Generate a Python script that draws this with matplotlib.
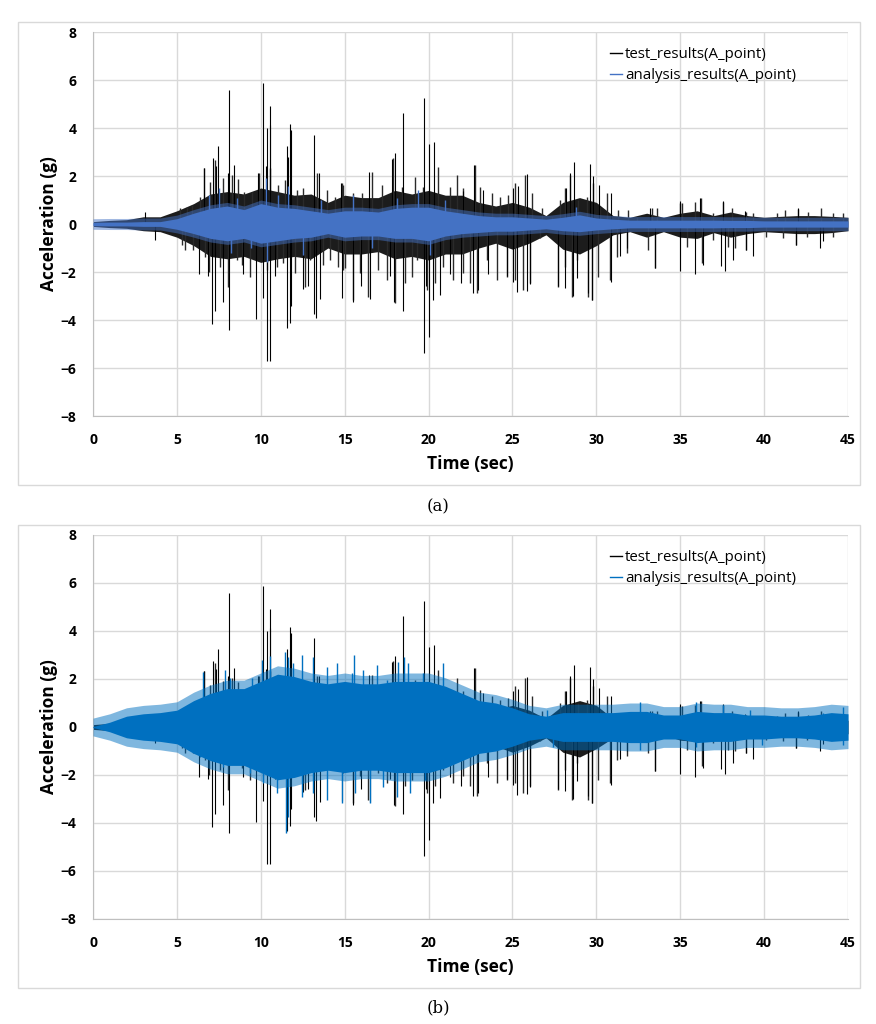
import numpy as np
import matplotlib.pyplot as plt
from matplotlib.patches import Rectangle

# envelope sample times (s)
env_t = np.arange(0, 46)

# test_results dense core (g)
test_hi = [0.1, 0.15, 0.18, 0.3, 0.3, 0.55, 0.85, 1.25, 1.35, 1.25, 1.5, 1.35, 1.2, 1.25, 0.9, 1.2,
           1.1, 1.1, 1.4, 1.25, 1.4, 1.2, 1.2, 0.9, 0.75, 0.9, 0.7, 0.35, 0.9, 1.1, 0.9, 0.35,
           0.28, 0.45, 0.28, 0.45, 0.55, 0.35, 0.5, 0.35, 0.28, 0.32, 0.35, 0.35, 0.32, 0.28]
test_lo = [-0.1, -0.15, -0.18, -0.28, -0.32, -0.55, -0.9, -1.35, -1.45, -1.35, -1.6, -1.45, -1.35,
           -1.45, -1.0, -1.25, -1.25, -1.15, -1.45, -1.35, -1.5, -1.25, -1.25, -1.0, -0.8, -1.05,
           -0.8, -0.45, -1.05, -1.25, -0.9, -0.45, -0.32, -0.55, -0.32, -0.55, -0.6, -0.36,
           -0.55, -0.4, -0.32, -0.36, -0.4, -0.4, -0.36, -0.28]

# test_results large spikes
spike_up_t = [3.1, 6.6, 7.16, 7.34, 7.46, 8.06, 8.13, 8.43, 9.82, 10.12, 10.32, 10.4, 10.54,
              10.56, 11.55, 11.6, 11.75, 11.8, 13.15, 13.49, 14.78, 16.47, 17.8, 18.0, 18.47,
              19.7, 20.04, 20.3, 22.07, 22.73, 23.26, 25.05, 25.35, 25.84, 28.18, 28.42,
              28.66, 29.65, 29.81, 30.13, 30.9, 33.2, 34.98, 36.17, 37.56, 38.85, 42.03]
spike_up_v = [0.5, 2.33, 2.73, 2.4, 3.26, 2.12, 5.59, 2.44, 2.12, 5.89, 2.4, 4.0, 4.13,
              4.92, 3.23, 2.8, 4.17, 3.9, 3.72, 2.12, 1.7, 2.16, 2.7, 2.95, 4.62,
              5.27, 3.34, 3.4, 1.36, 2.47, 1.43, 1.5, 1.57, 2.1, 1.5, 2.12,
              2.6, 2.5, 1.98, 1.64, 1.29, 0.67, 0.94, 1.08, 0.94, 0.53, 0.67]
spike_dn_t = [3.7, 6.31, 6.83, 7.08, 7.3, 7.74, 8.13, 8.93, 9.72, 10.12, 10.4, 10.52, 10.87,
              11.55, 11.73, 11.8, 12.54, 12.8, 13.15, 13.27, 13.53, 14.82, 15.48, 15.97,
              16.53, 17.72, 17.96, 18.45, 19.7, 19.84, 20.04, 20.24, 20.67, 21.27, 21.96,
              22.66, 22.96, 23.56, 24.66, 25.05, 25.25, 25.84, 26.04, 27.69, 28.13, 28.58,
              28.82, 29.5, 29.76, 30.89, 31.4, 31.8, 33.49, 34.98, 35.91, 36.33, 37.46,
              37.64, 38.16, 38.95, 39.35, 41.93, 43.36, 43.52]
spike_dn_v = [-0.65, -2.1, -2.18, -4.16, -3.63, -3.25, -4.4, -2.1, -3.95, -3.08, -5.69, -5.69,
              -2.18, -4.33, -4.12, -3.43, -2.7, -2.6, -3.74, -3.91, -3.12, -3.08, -3.25, -2.6,
              -3.12, -2.18, -3.26, -3.63, -5.37, -2.6, -4.7, -3.18, -2.94, -2.1, -2.45,
              -2.87, -2.73, -2.1, -2.18, -2.4, -2.84, -2.8, -2.52, -2.6, -2.66, -3.0,
              -2.25, -2.87, -3.15, -2.4, -1.35, -1.0, -1.83, -1.97, -2.1, -1.69, -1.76,
              -1.97, -1.49, -1.07, -1.35, -0.86, -1.0, -0.72]

# test_results medium spikes (texture of the band)
mid_up_t = [5.18, 5.58, 5.88, 6.38, 6.64, 6.97, 7.27, 7.77, 8.26, 8.66, 9.0, 9.45, 9.91, 10.55,
            11.04, 11.44, 12.14, 12.53, 13.33, 13.92, 14.42, 14.82, 14.92, 15.51, 16.01, 16.61,
            17.2, 17.86, 18.39, 19.19, 19.69, 20.58, 21.28, 21.67, 22.07, 22.77, 23.06, 23.76,
            24.26, 24.75, 25.15, 25.75, 26.14, 26.74, 27.34, 27.84, 28.13, 28.43, 28.92, 29.42,
            29.82, 30.22, 30.61, 31.31, 31.91, 32.4, 33.3, 33.59, 35.0, 35.08, 35.88, 36.21,
            36.97, 37.56, 38.06, 38.95, 39.35, 40.74, 41.24, 42.03, 42.63, 43.42, 44.12, 44.72]
mid_up_v = [0.65, 0.7, 0.79, 1.14, 2.32, 1.76, 2.67, 1.9, 2.04, 1.86, 1.35, 1.35, 2.11, 2.32,
            1.63, 1.83, 1.42, 1.49, 2.11, 1.42, 1.14, 1.69, 1.63, 1.28, 1.28, 2.18,
            1.63, 2.74, 1.56, 1.97, 1.56, 2.39, 1.56, 2.04, 1.49, 2.46, 1.56, 1.28,
            1.14, 1.21, 1.69, 2.04, 1.28, 0.65, 0.31, 1.0, 1.49, 2.04, 1.0, 1.14,
            1.69, 0.72, 1.28, 0.58, 0.58, 0.31, 0.65, 0.65, 0.86, 0.86, 0.93, 1.07,
            0.44, 0.93, 0.65, 0.51, 0.44, 0.44, 0.58, 0.61, 0.51, 0.65, 0.44, 0.44]
mid_dn_t = [5.28, 5.48, 5.98, 6.68, 6.93, 7.57, 8.07, 8.56, 8.86, 9.36, 10.15, 10.35, 10.95,
            11.34, 12.04, 12.64, 12.93, 13.73, 14.13, 14.62, 14.92, 15.02, 15.51, 15.91, 16.41,
            17.0, 17.5, 18.0, 18.6, 19.0, 19.29, 19.89, 20.39, 20.88, 21.48, 22.07, 22.47,
            22.87, 23.46, 24.06, 24.66, 25.15, 25.65, 26.04, 26.64, 27.73, 28.13, 28.52,
            28.82, 29.52, 29.72, 30.12, 30.81, 31.21, 31.8, 33.1, 33.49, 35.38, 36.27,
            36.97, 37.86, 38.26, 38.95, 40.14, 41.14, 41.93, 42.53, 44.12]
mid_dn_v = [-0.88, -1.08, -1.08, -1.36, -1.99, -1.78, -2.61, -1.5, -1.71, -2.19, -1.5, -1.92,
            -1.78, -1.64, -2.06, -2.61, -1.5, -1.71, -1.5, -1.78, -1.92, -1.85, -3.17, -2.06,
            -3.03, -1.92, -2.33, -3.31, -2.47, -2.19, -1.5, -2.75, -2.47, -1.78, -2.33, -2.06,
            -2.47, -2.89, -1.5, -2.33, -2.19, -2.33, -2.75, -2.47, -0.6, -2.61, -1.78, -3.03,
            -1.5, -3.03, -3.17, -2.19, -2.33, -1.36, -1.22, -1.08, -1.85, -0.94, -1.64,
            -0.67, -0.94, -1.01, -1.08, -0.53, -0.6, -0.88, -0.53, -0.53]

# analysis_results, case (a)
ana_a_hi = [0.07, 0.08, 0.08, 0.1, 0.1, 0.22, 0.45, 0.65, 0.75, 0.6, 0.85, 0.7, 0.65, 0.55, 0.45,
            0.55, 0.55, 0.5, 0.65, 0.7, 0.7, 0.55, 0.45, 0.35, 0.3, 0.3, 0.25, 0.2, 0.28, 0.38,
            0.25, 0.2, 0.16, 0.16, 0.16, 0.16, 0.16, 0.16, 0.15, 0.15, 0.13, 0.13, 0.13, 0.13,
            0.13, 0.13]
ana_a_lo = [-0.07, -0.08, -0.08, -0.1, -0.1, -0.22, -0.4, -0.6, -0.7, -0.6, -0.8, -0.7, -0.6,
            -0.55, -0.4, -0.55, -0.5, -0.5, -0.6, -0.6, -0.7, -0.5, -0.4, -0.35, -0.3, -0.3,
            -0.25, -0.2, -0.28, -0.32, -0.25, -0.2, -0.16, -0.16, -0.16, -0.16, -0.16, -0.16,
            -0.15, -0.15, -0.13, -0.13, -0.13, -0.13, -0.13, -0.13]
ana_a_spike_t = [6.9, 7.5, 8.2, 8.6, 9.4, 10.3, 10.4, 11.0, 11.6, 12.5, 13.6, 15.5, 16.6,
                 18.1, 19.4, 20.1, 21.0, 28.8]
ana_a_spike_v = [1.2, 1.5, -1.2, 1.1, -1.0, 1.9, -1.6, 1.2, 1.6, -1.3, 1.0, 1.2, -1.0,
                 1.1, 1.4, -1.3, 1.0, 0.7]

# analysis_results, case (b)
ana_b_hi = [0.02, 0.2, 0.45, 0.55, 0.6, 0.7, 1.1, 1.4, 1.6, 1.6, 1.9, 2.2, 2.1, 1.9, 1.8, 1.9,
            1.8, 1.8, 1.9, 1.9, 1.9, 1.7, 1.4, 1.1, 1.0, 0.8, 0.55, 0.45, 0.6, 0.6, 0.6, 0.6,
            0.65, 0.65, 0.5, 0.5, 0.65, 0.6, 0.6, 0.5, 0.5, 0.45, 0.45, 0.5, 0.6, 0.55]
ana_b_lo = [-0.02, -0.2, -0.45, -0.55, -0.6, -0.7, -1.1, -1.4, -1.6, -1.6, -1.9, -2.2, -2.1,
            -1.9, -1.8, -1.9, -1.8, -1.8, -1.9, -1.9, -1.9, -1.7, -1.4, -1.1, -1.0, -0.8, -0.55,
            -0.45, -0.6, -0.6, -0.6, -0.6, -0.65, -0.65, -0.5, -0.5, -0.65, -0.6, -0.6, -0.5,
            -0.5, -0.45, -0.45, -0.5, -0.6, -0.55]
ana_b_spike_t = [6.57, 7.87, 8.17, 9.46, 10.05, 10.55, 11.44, 11.64, 11.94, 12.43, 13.13, 13.92,
                 14.52, 15.41, 15.57, 16.11, 16.9, 17.5, 18.2, 18.55, 18.8, 19.69, 20.87,
                 27.03, 32.6, 35.96, 37.56, 39.15, 43.5, 44.7,
                 6.38, 7.77, 9.36, 10.15, 10.95, 11.5, 11.64, 12.43, 13.13, 13.92, 14.82,
                 15.61, 16.51, 17.3, 18.1, 18.89, 19.79, 27.43, 32.6, 35.96, 39.9, 44.7]
ana_b_spike_v = [2.3, 2.38, 2.03, 2.03, 2.79, 2.96, 3.14, 2.93, 2.65, 3.0, 2.93, 2.51,
                 2.65, 2.24, 2.99, 2.38, 2.58, 1.96, 2.72, 2.9, 2.65, 2.24, 2.68,
                 0.71, 1.05, 1.05, 0.92, 0.71, 0.57, 0.85,
                 -1.24, -1.65, -1.93, -2.35, -2.76, -4.4, -3.74, -2.9, -2.76, -3.04, -3.18,
                 -2.76, -3.18, -2.49, -2.9, -2.76, -2.21, -0.82, -0.96, -0.82, -0.75, -0.75]

x_ticks = np.arange(0, 46, 5)
y_ticks = np.arange(-8, 9, 2)

LABEL_FONT = dict(family="Open Sans", weight="bold", size=12.5)


def draw_panel(ax, ana_hi, ana_lo, ana_color, fringe, ana_sp_t, ana_sp_v):
    # test results
    ax.fill_between(env_t, test_lo, test_hi, color="#1c1c1c", lw=0, zorder=2)
    ax.vlines(mid_up_t, 0, mid_up_v, color="#2a2a2a", lw=1.0, zorder=2)
    ax.vlines(mid_dn_t, 0, mid_dn_v, color="#2a2a2a", lw=1.0, zorder=2)
    ax.vlines(spike_up_t, 0, spike_up_v, color="black", lw=0.8, zorder=2)
    ax.vlines(spike_dn_t, 0, spike_dn_v, color="black", lw=0.8, zorder=2)
    # analysis results
    hi = np.array(ana_hi)
    lo = np.array(ana_lo)
    ax.fill_between(env_t, lo - fringe, hi + fringe, color=ana_color, alpha=0.5, lw=0, zorder=3)
    ax.fill_between(env_t, lo, hi, color=ana_color, lw=0, zorder=3)
    ax.vlines(ana_sp_t, 0, ana_sp_v, color=ana_color, lw=1.0, zorder=3)
    ax.plot([], [], color="black", lw=1, label="test_results(A_point)")
    ax.plot([], [], color=ana_color, lw=1, label="analysis_results(A_point)")

    ax.set_xlim(0, 45)
    ax.set_ylim(-8, 8)
    ax.set_xticks(x_ticks)
    ax.set_yticks(y_ticks)
    ax.grid(True, color="#d9d9d9", lw=1, zorder=0)
    ax.set_axisbelow(True)
    for s in ("top", "right"):
        ax.spines[s].set_visible(False)
    for s in ("left", "bottom"):
        ax.spines[s].set_color("#bfbfbf")
    ax.tick_params(length=0, pad=12)
    for lbl in ax.get_xticklabels() + ax.get_yticklabels():
        lbl.set_fontfamily("Open Sans")
        lbl.set_fontweight("bold")
        lbl.set_fontsize(10)
    ax.set_xlabel("Time (sec)", labelpad=6, **LABEL_FONT)
    ax.set_ylabel("Acceleration (g)", labelpad=2, **LABEL_FONT)
    ax.legend(loc="upper left", bbox_to_anchor=(0.667, 0.995), frameon=False,
              handlelength=0.8, handletextpad=0.2, labelspacing=0.4,
              prop=dict(family="Open Sans", size=10.8))


fig = plt.figure(figsize=(8.76, 10.24), dpi=100)
W, H = 876, 1024

ax_a = fig.add_axes([93 / W, 1 - 416 / H, 755 / W, 384 / H])
draw_panel(ax_a, ana_a_hi, ana_a_lo, "#4472C4", 0.15, ana_a_spike_t, ana_a_spike_v)
ax_b = fig.add_axes([93 / W, 1 - 919 / H, 755 / W, 384 / H])
draw_panel(ax_b, ana_b_hi, ana_b_lo, "#0070C0", 0.35, ana_b_spike_t, ana_b_spike_v)

# outer chart boxes
for top, bot in ((22, 485), (525, 988)):
    fig.patches.append(Rectangle((18 / W, 1 - bot / H), (860 - 18) / W, (bot - top) / H,
                                 transform=fig.transFigure, fill=False,
                                 edgecolor="#d9d9d9", lw=1))

fig.text(438 / W, 1 - 507 / H, "(a)", ha="center", va="center", family="DejaVu Serif", size=12)
fig.text(438 / W, 1 - 1008 / H, "(b)", ha="center", va="center", family="DejaVu Serif", size=12)

fig.savefig("out.png", dpi=100)
